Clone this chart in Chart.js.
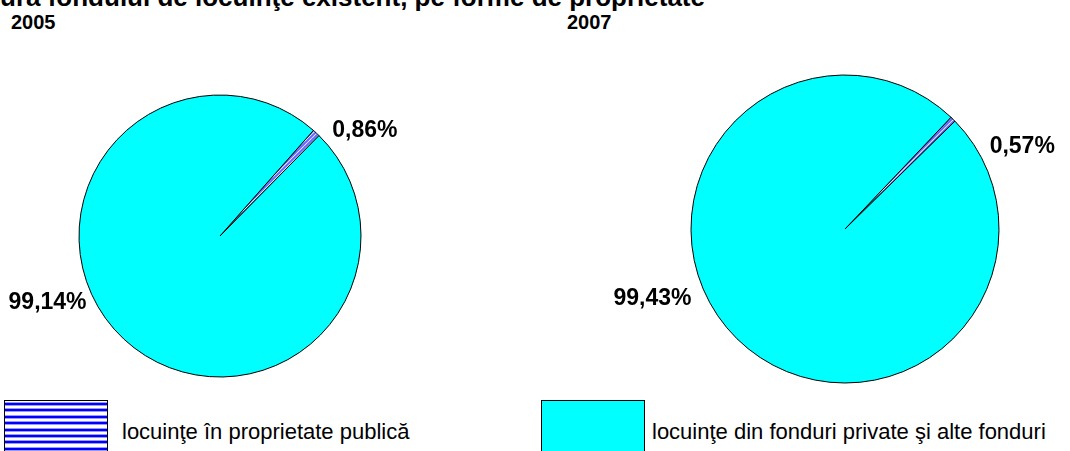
<!DOCTYPE html>
<html>
<head>
<meta charset="utf-8">
<script src="https://cdn.jsdelivr.net/npm/chart.js@4.4.0/dist/chart.umd.min.js"></script>
<style>
  body { margin: 0; width: 1070px; height: 451px; overflow: hidden; background: #fff; position: relative; font-family: "Liberation Sans", Arial, sans-serif; }
  .abs { position: absolute; }
  #title { right: 365px; top: -16px; font-size: 26px; line-height: 26px; font-weight: bold; white-space: nowrap; color: #000; }
  .year { top: 12px; font-size: 20px; line-height: 20px; font-weight: bold; }
  .box { width: 104px; height: 52px; border: 1px solid #000; box-sizing: border-box; top: 400px; }
  .legtext { top: 420px; font-size: 22px; line-height: 24px; white-space: nowrap; }
  .pie { width: 535px; height: 360px; top: 40px; }
</style>
</head>
<body>
<div id="title" class="abs">Structura fondului de locuinţe existent, pe forme de proprietate</div>
<div id="y0" class="abs year" style="left:11px"></div>
<div id="y1" class="abs year" style="left:567px"></div>

<div class="abs pie" style="left:0"><canvas id="pie0"></canvas></div>
<div class="abs pie" style="left:535px"><canvas id="pie1"></canvas></div>

<div class="abs box" style="left:4px; background: repeating-linear-gradient(to bottom, #fff 0px, #fff 1px, #9999ff 1px, #9999ff 2px, #0000ff 2px, #0000ff 4px, #9999ff 4px, #9999ff 5px, #fff 5px, #fff 6.4px);"></div>
<div id="l0" class="abs legtext" style="left:122px"></div>
<div class="abs box" style="left:541px; background:#00ffff;"></div>
<div id="l1" class="abs legtext" style="left:652px"></div>

<script>
// data
const years = ['2005', '2007'];
const categories = ['locuinţe în proprietate publică', 'locuinţe din fonduri private şi alte fonduri'];
const share2005 = [0.86, 99.14];
const share2007 = [0.57, 99.43];

document.getElementById('y0').textContent = years[0];
document.getElementById('y1').textContent = years[1];
document.getElementById('l0').textContent = categories[0];
document.getElementById('l1').textContent = categories[1];

// diagonal hatch for the public slice
function hatch() {
    const c = document.createElement('canvas');
    c.width = 4; c.height = 4;
    const g = c.getContext('2d');
    g.fillStyle = '#ffffff';
    g.fillRect(0, 0, 4, 4);
    g.strokeStyle = '#6666ff';
    g.lineWidth = 2;
    g.beginPath();
    g.moveTo(-1, 5); g.lineTo(5, -1);
    g.moveTo(-1, 1); g.lineTo(1, -1);
    g.moveTo(3, 5); g.lineTo(5, 3);
    g.stroke();
    return g.createPattern(c, 'repeat');
}

const fmt = v => v.toFixed(2).replace('.', ',') + '%';

// draws the % labels around each pie
const pctLabels = {
    id: 'pctLabels',
    afterDatasetsDraw(chart, args, opts) {
        const ctx = chart.ctx;
        const meta = chart.getDatasetMeta(0);
        const vals = chart.data.datasets[0].data;
        ctx.save();
        ctx.font = 'bold 23px "Liberation Sans", Arial, sans-serif';
        ctx.fillStyle = '#000';
        ctx.textAlign = 'center';
        ctx.textBaseline = 'middle';
        meta.data.forEach((arc, i) => {
            const a = (opts.angles[i] - 90) * Math.PI / 180;
            const d = arc.outerRadius * opts.dist[i];
            ctx.fillText(fmt(vals[i]), arc.x + Math.cos(a) * d, arc.y + Math.sin(a) * d);
        });
        ctx.restore();
    }
};

function makePie(id, values, rotation, padding, angles, dist) {
    new Chart(document.getElementById(id), {
        type: 'pie',
        data: {
            labels: categories,
            datasets: [{
                data: values,
                backgroundColor: [hatch(), '#00ffff'],
                borderColor: '#000',
                borderWidth: 1
            }]
        },
        options: {
            responsive: true,
            maintainAspectRatio: false,
            animation: false,
            rotation: rotation,
            layout: { padding: padding },
            plugins: {
                legend: { display: false },
                tooltip: { enabled: false },
                pctLabels: { angles: angles, dist: dist }
            }
        },
        plugins: [pctLabels]
    })
}

makePie('pie0', share2005, 41.5, { left: 78.5, right: 173.5, top: 54.5, bottom: 22.5 }, [54, 249], [1.27, 1.31]);
makePie('pie1', share2007, 43.5, { left: 155.5, right: 70.5, top: 34.5, bottom: 16.5 }, [65, 250], [1.27, 1.33]);
</script>
</body>
</html>
